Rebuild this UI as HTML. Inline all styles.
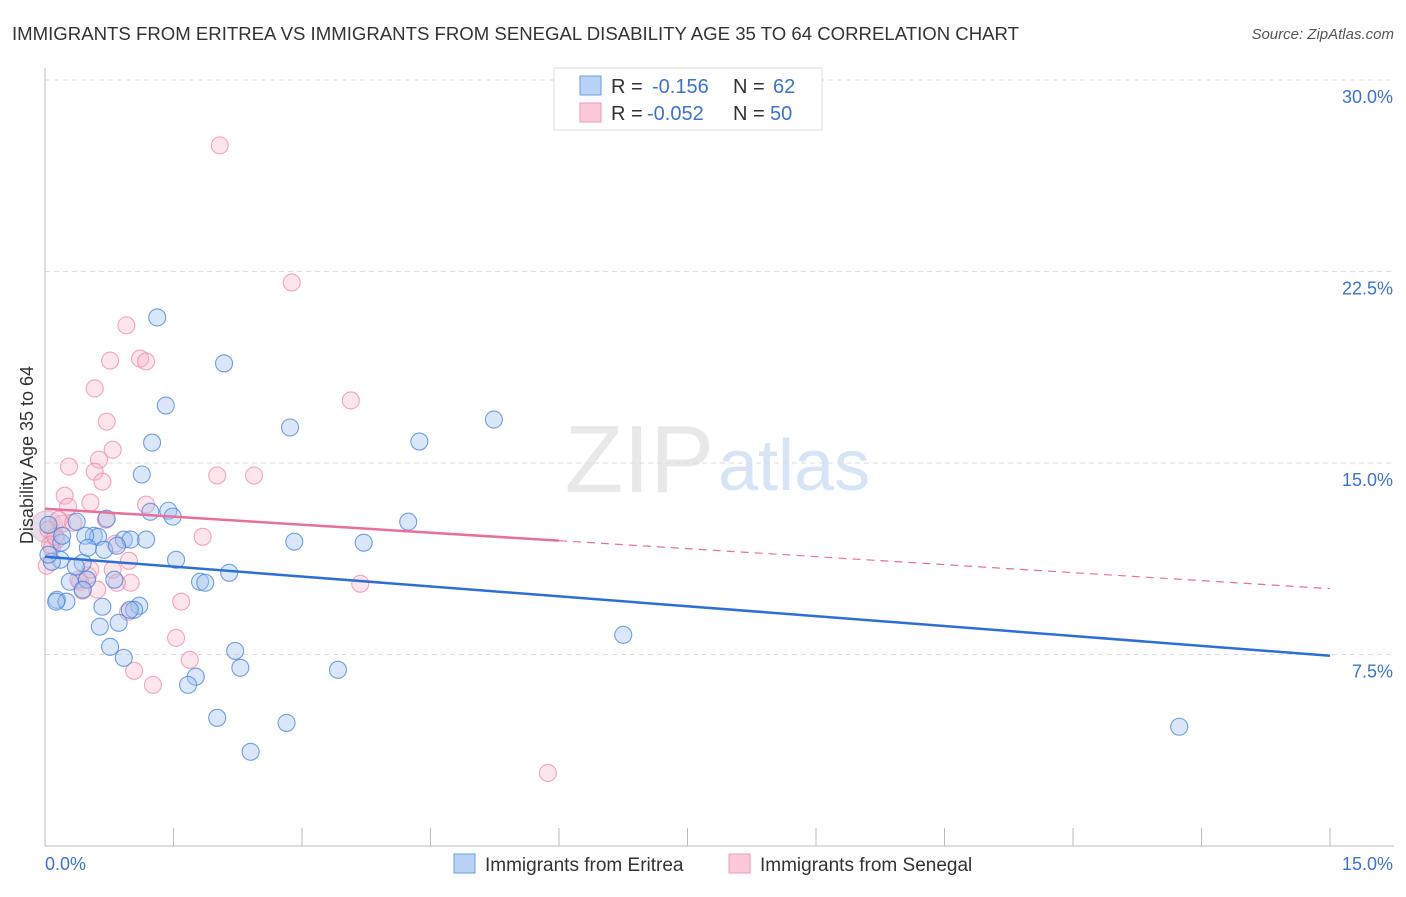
<!DOCTYPE html>
<html><head><meta charset="utf-8"><style>
body{margin:0;background:#fff;font-family:"Liberation Sans",sans-serif;}
svg text{font-family:"Liberation Sans",sans-serif;}
</style></head><body>
<svg id="chart" width="1406" height="892">
<text x="12" y="40" font-size="18.6" fill="#333">IMMIGRANTS FROM ERITREA VS IMMIGRANTS FROM SENEGAL DISABILITY AGE 35 TO 64 CORRELATION CHART</text>
<text x="1394" y="39" font-size="15" fill="#555" text-anchor="end" font-style="italic">Source: ZipAtlas.com</text>
<text x="714" y="492" font-size="96" fill="#e8e8e8" text-anchor="end" font-family="Liberation Serif">ZIP</text>
<text x="718" y="490" font-size="72" fill="#d6e4f5">atlas</text>
<g id="grid"></g>
<g id="axes"></g>
<g id="points"></g>
<g id="lines"></g>
<text transform="translate(33,455) rotate(-90)" font-size="18" fill="#333" text-anchor="middle">Disability Age 35 to 64</text>
<g>
<rect x="554" y="68" width="268" height="62" fill="#fff" stroke="#ddd"/>
<rect x="580" y="76" width="21" height="19" fill="#b8d3f5" stroke="#6a9de0"/>
<rect x="580" y="103" width="21" height="19" fill="#fbc9d8" stroke="#ee9ab4"/>
<text x="611" y="93" font-size="20" fill="#333">R = </text><text x="652" y="93" font-size="20" fill="#3a73d0">-0.156</text>
<text x="733" y="93" font-size="20" fill="#333">N = </text><text x="773" y="93" font-size="20" fill="#3a73d0">62</text>
<text x="611" y="120" font-size="20" fill="#333">R = </text><text x="647" y="120" font-size="20" fill="#3a73d0">-0.052</text>
<text x="733" y="120" font-size="20" fill="#333">N = </text><text x="770" y="120" font-size="20" fill="#3a73d0">50</text>
</g>
<g>
<rect x="454" y="854" width="21" height="19" fill="#b8d3f5" stroke="#6a9de0"/>
<text x="485" y="871" font-size="19" fill="#333">Immigrants from Eritrea</text>
<rect x="729" y="854" width="21" height="19" fill="#fbc9d8" stroke="#ee9ab4"/>
<text x="760" y="871" font-size="19" fill="#333">Immigrants from Senegal</text>
</g>
</svg>
<script>
const yTicks=[7.5,15,22.5,30];
const yTickLabels=["7.5%","15.0%","22.5%","30.0%"];
const xEnds=["0.0%","15.0%"];
const eritreaX=[1.31,2.09,1.41,1.25,1.13,2.86,4.37,5.24,4.24,2.91,3.72,1.44,1.49,1.23,0.72,0.37,0.57,0.62,0.92,1.00,1.18,0.69,0.84,0.47,0.19,0.18,1.53,0.44,0.08,0.29,0.49,0.81,2.15,1.81,1.87,0.44,0.14,0.25,0.13,1.10,1.04,0.67,0.99,0.64,0.86,6.75,0.76,0.92,2.22,2.28,3.42,1.76,1.67,2.01,2.82,2.40,13.24,0.36,0.04,0.04,0.20,0.50];
const eritreaY=[20.70,18.90,17.25,15.80,14.55,16.39,15.84,16.70,12.70,11.92,11.88,13.13,12.90,13.09,12.82,12.70,12.15,12.11,12.00,12.00,12.00,11.60,11.76,12.15,11.88,11.21,11.21,11.09,11.13,10.35,10.43,10.43,10.70,10.35,10.31,10.04,9.64,9.57,9.57,9.41,9.25,9.37,9.25,8.59,8.74,8.27,7.80,7.37,7.64,6.98,6.90,6.63,6.31,5.02,4.82,3.69,4.67,10.94,11.41,12.58,12.15,11.68];
const senegalX=[2.04,2.88,0.95,0.76,1.11,1.18,0.58,3.57,0.72,0.79,0.63,0.28,0.58,0.67,2.01,2.44,0.23,0.53,0.27,1.18,0.71,0.20,0.14,1.84,0.08,0.04,0.16,0.98,0.79,0.50,0.41,1.00,0.44,0.84,3.68,0.97,1.59,1.53,1.69,1.04,1.26,5.87,0.33,0.82,0.06,0.12,0.39,0.61,0.53,0.02];
const senegalY=[27.44,22.07,20.39,19.01,19.09,18.98,17.92,17.45,16.62,15.52,15.13,14.86,14.66,14.27,14.51,14.51,13.72,13.45,13.29,13.37,12.78,12.62,12.00,12.11,11.68,12.39,12.78,11.17,10.82,10.59,10.35,10.31,10.00,10.31,10.27,9.17,9.57,8.15,7.29,6.86,6.31,2.86,12.66,11.84,11.80,12.11,10.43,10.04,10.82,10.98];
const eritreaTrend=[11.33,7.45];
const senegalTrend=[13.21,10.08];
const senegalSolidEnd=6.0;
const NS="http://www.w3.org/2000/svg";
const X=v=>45+v/15*1285, Y=v=>846-v/30*766;
function mk(p,t,a){const e=document.createElementNS(NS,t);for(const k in a)e.setAttribute(k,a[k]);p.appendChild(e);return e;}
const grid=document.getElementById('grid'),axes=document.getElementById('axes'),pts=document.getElementById('points'),lines=document.getElementById('lines');
yTicks.forEach((t,i)=>{
 const g=mk(grid,'line',{x1:45,x2:1394,y1:Y(t),y2:Y(t),stroke:'#ddd','stroke-dasharray':'5,4'});
 
 
 const l=mk(axes,'text',{x:1393,y:Y(t)+23,'font-size':18,fill:'#3a73d0','text-anchor':'end'});l.textContent=yTickLabels[i];
 
 
});
const ya=mk(axes,'line',{x1:45,x2:45,y1:68,y2:846,stroke:'#bbb'});


const xa=mk(axes,'line',{x1:45,x2:1394,y1:846,y2:846,stroke:'#bbb'});


for(let i=0;i<=10;i++){const tk=mk(axes,'line',{x1:X(i*1.5),x2:X(i*1.5),y1:828,y2:846,stroke:'#bbb'});
 
 }
const xl0=mk(axes,'text',{x:45,y:870,'font-size':18,fill:'#3a73d0'});xl0.textContent=xEnds[0];


const xl1=mk(axes,'text',{x:1393,y:870,'font-size':18,fill:'#3a73d0','text-anchor':'end'});xl1.textContent=xEnds[1];


const big1=mk(pts,'circle',{cx:X(0.02),cy:Y(12.5),r:16,fill:'rgba(200,170,200,0.4)',stroke:'rgba(200,150,190,0.5)'});


senegalX.forEach((x,i)=>{const c=mk(pts,'circle',{cx:X(x),cy:Y(senegalY[i]),r:8.5,fill:'rgba(248,180,200,0.35)',stroke:'rgba(235,130,165,0.7)','stroke-width':1.1});
 
 });
eritreaX.forEach((x,i)=>{const c=mk(pts,'circle',{cx:X(x),cy:Y(eritreaY[i]),r:8.5,fill:'rgba(160,195,240,0.4)',stroke:'rgba(70,130,215,0.75)','stroke-width':1.1});
 
 });
const bl=mk(lines,'line',{x1:X(0),y1:Y(eritreaTrend[0]),x2:X(15),y2:Y(eritreaTrend[1]),stroke:'#2e6fd6','stroke-width':2.5});


const ym=senegalTrend[0]+(senegalTrend[1]-senegalTrend[0])*senegalSolidEnd/15;
const pl=mk(lines,'line',{x1:X(0),y1:Y(senegalTrend[0]),x2:X(senegalSolidEnd),y2:Y(ym),stroke:'#e8709a','stroke-width':2.5});


const pd=mk(lines,'line',{x1:X(senegalSolidEnd),y1:Y(ym),x2:X(15),y2:Y(senegalTrend[1]),stroke:'#e8709a','stroke-width':1.2,'stroke-dasharray':'8,6'});


</script>
</body></html>
